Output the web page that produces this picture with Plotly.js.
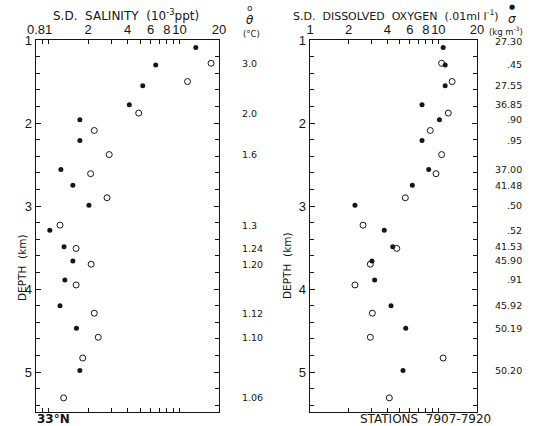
<!DOCTYPE html>
<html>
<head>
<meta charset="utf-8">
<script src="https://cdn.plot.ly/plotly-3.0.1.min.js"></script>
<style>
  html, body { margin: 0; padding: 0; background: #fff; }
  #chart { width: 536px; height: 426px; }
</style>
</head>
<body>
<div id="chart"></div>
<script>
// Sample depths (km) shared by both panels
const filledDepth = [1.09, 1.30, 1.55, 1.78, 1.96, 2.21, 2.56, 2.75, 2.99, 3.29, 3.49, 3.66, 3.89, 4.20, 4.47, 4.98];
const openDepth   = [1.28, 1.50, 1.88, 2.09, 2.38, 2.61, 2.90, 3.23, 3.51, 3.70, 3.95, 4.29, 4.58, 4.83, 5.31];

// S.D. salinity (10^-3 ppt)
const salinityFilled = [13.3, 6.57, 5.23, 4.13, 1.73, 1.73, 1.24, 1.53, 2.03, 1.02, 1.31, 1.53, 1.33, 1.22, 1.63, 1.73];
const salinityOpen   = [17.4, 11.5, 4.87, 2.23, 2.90, 2.09, 2.79, 1.22, 1.62, 2.11, 1.62, 2.23, 2.39, 1.82, 1.30];

// S.D. dissolved oxygen (.01 ml/l)
const oxygenFilled = [10.9, 11.3, 11.3, 7.46, 10.2, 7.46, 8.41, 6.27, 2.24, 3.79, 4.41, 3.04, 3.19, 4.28, 5.57, 5.30];
const oxygenOpen   = [10.6, 12.8, 11.95, 8.65, 10.6, 9.59, 5.53, 2.59, 4.74, 2.95, 2.24, 3.06, 2.95, 10.9, 4.15];

// Potential temperature at the open-circle depths, density at the filled-circle depths
const thetaLabels = ['3.0', '', '2.0', '', '1.6', '', '', '1.3', '1.24', '1.20', '', '1.12', '1.10', '', '1.06'];
const sigmaLabels = ['27.30', '.45', '27.55', '36.85', '.90', '.95', '37.00', '41.48', '.50', '.52', '41.53', '45.90', '.91', '45.92', '50.19', '50.20'];

// Axis ticks: labelled values and unlabelled intermediate ticks
const salTickVals = [0.8, 1, 2, 4, 6, 8, 10, 20];
const salMinorVals = [0.9, 3, 5, 7, 9];
const oxyTickVals = [1, 2, 4, 6, 8, 10, 20];
const oxyMinorVals = [3, 5, 7, 9];

const W = 536, H = 426;
const M = { l: 0, r: 0, t: 40, b: 14 };
const px = x => x / W;
const py = y => (H - M.b - y) / (H - M.t - M.b);

const INK = '#161616';
const FONT = 'DejaVu Sans, Liberation Sans, sans-serif';
const TICKFONT = 'Liberation Sans, Arial, sans-serif';

const filledMarker = { symbol: 'circle', size: 5, color: INK, line: { width: 0 } };
const openMarker = { symbol: 'circle-open', size: 6, color: INK, line: { width: 1, color: INK } };

const traces = [
  { x: salinityFilled, y: filledDepth, xaxis: 'x', yaxis: 'y', mode: 'markers', marker: filledMarker, type: 'scatter' },
  { x: salinityOpen, y: openDepth, xaxis: 'x', yaxis: 'y', mode: 'markers', marker: openMarker, type: 'scatter' },
  { x: oxygenFilled, y: filledDepth, xaxis: 'x2', yaxis: 'y2', mode: 'markers', marker: filledMarker, type: 'scatter' },
  { x: oxygenOpen, y: openDepth, xaxis: 'x2', yaxis: 'y2', mode: 'markers', marker: openMarker, type: 'scatter' }
];

function xAxis(domain, range, vals, minorVals, anchor) {
  return {
    type: 'log', domain, range, anchor, side: 'top',
    tickmode: 'array', tickvals: vals, ticktext: vals.map(String), tickangle: 0,
    ticks: 'inside', ticklen: 4, tickwidth: 1, tickcolor: INK,
    minor: { tickmode: 'array', tickvals: minorVals, ticks: 'inside', ticklen: 4, tickwidth: 1, tickcolor: INK },
    showline: true, mirror: 'ticks', linecolor: INK, linewidth: 1.3,
    showgrid: false, zeroline: false,
    tickfont: { family: TICKFONT, size: 13, color: INK }
  };
}
function yAxis(anchor) {
  return {
    domain: [0, 1], range: [5.48, 1], anchor,
    tickmode: 'linear', tick0: 1, dtick: 1,
    ticks: 'inside', ticklen: 5, tickwidth: 1, tickcolor: INK,
    minor: { tickmode: 'linear', tick0: 1, dtick: 0.2, ticks: 'inside', ticklen: 4, tickcolor: INK },
    showline: true, mirror: 'ticks', linecolor: INK, linewidth: 1.3,
    showgrid: false, zeroline: false,
    tickfont: { family: TICKFONT, size: 13, color: INK }
  };
}

const ann = [];
function text(t, x, y, size, opts) {
  ann.push(Object.assign({
    text: t, x: px(x), y: py(y), xref: 'paper', yref: 'paper',
    showarrow: false, xanchor: 'center', yanchor: 'middle',
    font: { family: FONT, size, color: INK }
  }, opts || {}));
}

// Panel headings
text('S.D.  SALINITY  (10<sup>-3</sup>ppt)', 126, 15, 12);
text('S.D.  DISSOLVED  OXYGEN  (.01ml l<sup>-1</sup>)', 396, 15, 11);
// Column headings
text('o', 250, 8, 9);
text('<i>θ</i>', 250, 20, 12);
text('(°C)', 251, 34, 8.5);
text('●', 512, 7, 7);
text('<i>σ</i>', 512, 19, 12);
text('(kg m<sup>-3</sup>)', 506, 31, 8.5);
// Depth axis titles
text('DEPTH  (km)', 22, 268, 10.5, { textangle: -90 });
text('DEPTH  (km)', 287, 266, 10.5, { textangle: -90 });
// Footers
text('<b>33°N</b>', 35, 419, 12, { xanchor: 'left' });
text('STATIONS  7907-7920', 425, 419, 12);

// Temperature column
thetaLabels.forEach((t, i) => {
  if (!t) return;
  ann.push({
    text: t, x: px(240), y: openDepth[i], xref: 'paper', yref: 'y',
    showarrow: false, xanchor: 'left', yanchor: 'middle',
    font: { family: FONT, size: 9.5, color: INK }
  });
});
// Density column
sigmaLabels.forEach((t, i) => {
  if (!t) return;
  ann.push({
    text: t, x: px(524), y: filledDepth[i], xref: 'paper', yref: 'y2',
    showarrow: false, xanchor: 'right', yanchor: 'middle',
    yshift: i === 0 ? 6 : 0,
    font: { family: FONT, size: 9.5, color: INK }
  });
});

const layout = {
  width: W, height: H, margin: M,
  paper_bgcolor: '#fff', plot_bgcolor: '#fff',
  showlegend: false,
  xaxis: xAxis([px(36), px(219)], [Math.log10(0.8), Math.log10(20)], salTickVals, salMinorVals, 'y'),
  yaxis: yAxis('x'),
  xaxis2: xAxis([px(310), px(477)], [0, Math.log10(20)], oxyTickVals, oxyMinorVals, 'y2'),
  yaxis2: yAxis('x2'),
  annotations: ann
};

Plotly.newPlot('chart', traces, layout, { staticPlot: true, displayModeBar: false });
</script>
</body>
</html>
